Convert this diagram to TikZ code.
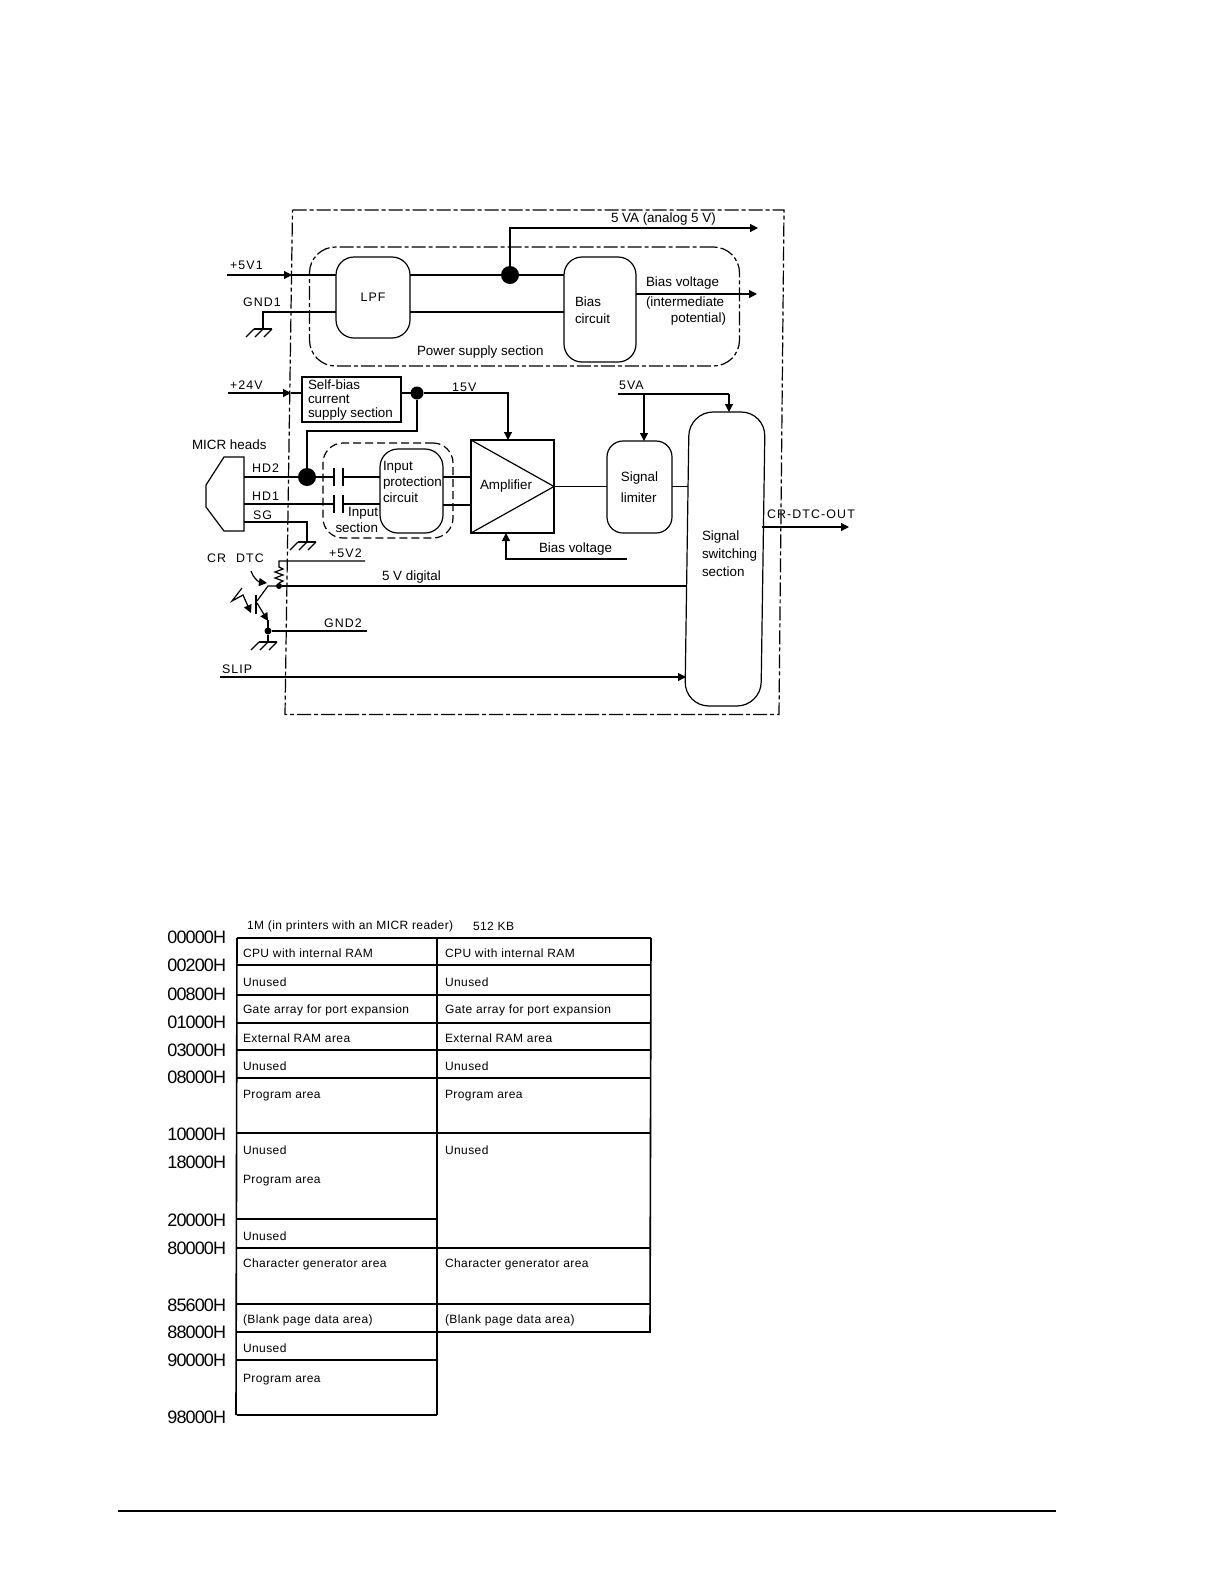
\documentclass[tikz,border=0pt]{standalone}
\usepackage{fontspec}
\setmainfont{Liberation Sans}
\newfontfamily\widefont[LetterSpace=9]{Liberation Sans}
\newfontfamily\cellfont[LetterSpace=3.5]{Liberation Sans}
\newfontfamily\addrfont[LetterSpace=-5]{Liberation Sans}
\usetikzlibrary{arrows.meta}
\usetikzlibrary{positioning}
\tikzset{
  groundmark/.pic={
    \draw (-9,0) -- (9,0);
    \foreach \gx in {-9,0,9} \draw (\gx,0) -- ++(-8,8);
  }
}
\begin{document}
\begin{tikzpicture}[
    x=0.5pt, y=-0.5pt, line width=0.6pt,
    txt/.style={inner sep=0pt, outer sep=0pt, anchor=west, align=left, yshift=-0.5pt, font=\fontsize{6.7}{7}\selectfont},
    widetxt/.style={inner sep=0pt, outer sep=0pt, anchor=west, font=\fontsize{6.2}{7}\widefont},
    rblock/.style={draw, rounded corners=9pt, inner sep=0pt, outer sep=0pt, align=left, font=\fontsize{6.7}{9}\selectfont},
    sqblock/.style={draw, inner sep=0pt, outer sep=0pt},
    dashbox/.style={draw, rounded corners=13pt, inner sep=0pt, dash pattern=on 7pt off 1.5pt on 2pt off 1.5pt},
    dot/.style={circle, fill, inner sep=0pt, outer sep=0pt, minimum size=#1},
    flow/.style={-{Triangle[length=4pt,width=4pt]}},
    framedash/.style={dash pattern=on 7pt off 1.5pt on 2pt off 1.5pt},
    celltxt/.style={inner sep=0pt, outer sep=0pt, anchor=west, yshift=-0.6pt, font=\fontsize{6}{7}\cellfont},
    addrtxt/.style={inner sep=0pt, outer sep=0pt, anchor=east, font=\fontsize{9}{10}\addrfont},
  ]
  \useasboundingbox (0,0) rectangle (1225,1585);

  % Outer frame
  \coordinate (frameNW) at (292.5,210);
  \coordinate (frameNE) at (784,210);
  \coordinate (frameSE) at (779,714.5);
  \coordinate (frameSW) at (285,714.5);
  \draw[framedash] (frameNW) -- (frameNE) -- (frameSE) -- (frameSW) -- cycle;

  % Power supply section
  \node[dashbox, minimum width=215pt, minimum height=59.5pt] (powerbox) at (524.5,306.5) {};
  \node[rblock, minimum width=37pt, minimum height=40.5pt, font=\fontsize{6.2}{7}\widefont] (LPF) at (373,297.5) {LPF};
  \node[rblock, minimum width=36pt, minimum height=52.5pt] (biasc) at (600,309.5) {};
  \node[txt] (biaslbl) at (575,309) {Bias\\[1.6pt]circuit};
  \node[txt] (powerlbl) at (417,351) {Power supply section};
  \node[dot=9pt] (dotA) at (510,275) {};
  \coordinate (in5v) at (227,275);
  \coordinate (tip5v) at (292,275);
  \coordinate (gndturn) at (263,312);
  \coordinate (gnddown) at (263,329);
  \coordinate (vaturn) at (510,228);
  \coordinate (vaend) at (758,228);
  \coordinate (biasend) at (757,294);
  \node[widetxt] (lblfive) at (230,265) {+5V1};
  \node[widetxt] (lblgnd) at (243,302) {GND1};
  \node[txt] (lblva) at (611,218) {5 VA (analog 5 V)};
  \node[txt] (lblbias) at (646,282) {Bias voltage};
  \node[txt] (lblinter) at (646,302) {(intermediate};
  \node[txt, anchor=east] (lblpot) at (726,318) {potential)};

  \draw[flow] (in5v) -- (tip5v);
  \draw (tip5v) -- (in5v -| LPF.west);
  \draw (in5v -| LPF.east) -- (dotA);
  \draw (dotA) -- (in5v -| biasc.west);
  \draw[flow] (dotA) -- (vaturn) -- (vaend);
  \draw (gnddown) -- (gndturn) -- (gndturn -| LPF.west);
  \draw (gndturn -| LPF.east) -- (gndturn -| biasc.west);
  \draw[flow] (biasend -| biasc.east) -- (biasend);
  \pic at (gnddown) {groundmark};

  % Self-bias supply
  \node[sqblock, minimum width=49.5pt, minimum height=22.5pt] (selfbias) at (351.5,399.5) {};
  \node[txt] (selflbl) at (308,399) {Self-bias\\current\\supply section};
  \node[dot=6.5pt] (dotB) at (417,393) {};
  \coordinate (in24) at (228,393);
  \coordinate (tip24) at (291,393);
  \coordinate (turnB) at (417,431);
  \coordinate (turnC) at (307,431);
  \node[widetxt] (lbl24) at (230,385) {+24V};
  \node[widetxt] (lbl15) at (452,387) {15V};

  % MICR heads
  \coordinate (headA) at (224,457);
  \coordinate (headB) at (244,457);
  \coordinate (headC) at (244,531);
  \coordinate (headD) at (224,531);
  \coordinate (headE) at (206,507);
  \coordinate (headF) at (206,485);
  \draw (headA) -- (headB) -- (headC) -- (headD) -- (headE) -- (headF) -- cycle;
  \node[txt] (lblmicr) at (192,444) {MICR heads};
  \node[widetxt] (lblhd2) at (252,468) {HD2};
  \node[widetxt] (lblhd1) at (252,496) {HD1};
  \node[widetxt] (lblsg) at (253,515) {SG};
  \node[dot=9pt] (dotC) at (307,477) {};
  \coordinate (hdA) at (244,477);
  \coordinate (hdB) at (244,504);
  \coordinate (sgA) at (244,522);
  \coordinate (sgB) at (307,522);
  \coordinate (sgC) at (307,542);

  % Input section
  \node[dashbox, rounded corners=10pt, dash pattern=on 4pt off 2pt, minimum width=65pt, minimum height=47.5pt] (inputbox) at (388,490.5) {};
  \node[rblock, minimum width=31.5pt, minimum height=42pt] (protect) at (411.5,491) {};
  \node[txt] (protlbl) at (383,481) {Input\\[1pt]protection\\[1pt]circuit};
  \node[txt, anchor=east, align=right] (inputlbl) at (378,519) {Input\\[1pt]section};
  \coordinate (capA) at (334,477);
  \coordinate (capB) at (343,477);
  \coordinate (capC) at (334,504);
  \coordinate (capD) at (343,504);
  \coordinate (outB) at (443,505);
  \draw (capA) ++(0,-9) -- ++(0,18);
  \draw (capB) ++(0,-9) -- ++(0,18);
  \draw (capC) ++(0,-9) -- ++(0,18);
  \draw (capD) ++(0,-9) -- ++(0,18);

  % Amplifier
  \node[sqblock, minimum width=41.5pt, minimum height=46.5pt] (amp) at (512.5,486.5) {};
  \draw (amp.north west) -- (amp.east) -- (amp.south west);
  \node[txt] (amplbl) at (480,485) {Amplifier};
  \coordinate (ampin) at (508,393);
  \coordinate (biasin) at (506,559);
  \coordinate (biasoff) at (627,559);
  \node[txt] (lblbias2) at (539,548) {Bias voltage};

  \draw[flow] (in24) -- (tip24);
  \draw (tip24) -- (selfbias.west |- in24);
  \draw (selfbias.east |- in24) -- (dotB);
  \draw[flow] (dotB) -- (ampin) -- (ampin |- amp.north);
  \draw (dotB) -- (turnB) -- (turnC) -- (dotC);
  \draw (hdA) -- (dotC) -- (capA);
  \draw (capB) -- (capB -| protect.west);
  \draw (hdB) -- (capC);
  \draw (capD) -- (capD -| protect.west);
  \draw (sgA) -- (sgB) -- (sgC);
  \pic at (sgC) {groundmark};
  \draw (protect.east |- capA) -- (amp.west |- capA);
  \draw (outB) -- (outB -| amp.west);
  \draw[flow] (biasoff) -- (biasin) -- (biasin |- amp.south);

  % Signal limiter and switching
  \node[rblock, rounded corners=8pt, minimum width=32.5pt, minimum height=46pt] (limiter) at (639.5,487) {Signal\\[1.5pt]limiter};
  \begin{scope}[shift={(725,559)}, xslant=0.0145]
    \node[rblock, rounded corners=12pt, transform shape, minimum width=38pt, minimum height=147pt] (switching) at (0,0) {};
  \end{scope}
  \node[txt, font=\fontsize{6.7}{9}\selectfont] (switchlbl) at (702,553) {Signal\\switching\\section};
  \coordinate (va5a) at (618,394);
  \coordinate (vaB) at (644,394);
  \coordinate (vaC) at (729,394);
  \coordinate (crout) at (849,527);
  \node[widetxt] (lbl5va) at (619,385) {5VA};
  \node[widetxt] (lblcr) at (767,514) {CR-DTC-OUT};
  \draw (amp.east) -- (amp.east -| limiter.west);
  \draw (amp.east -| limiter.east) -- ++(16,0);
  \draw (va5a) -- (vaC);
  \draw[flow] (vaB) -- (vaB |- limiter.north);
  \draw[flow] (vaC) -- (729,412);
  \draw[flow] (762,527) -- (crout);

  % CR detector
  \node[dot=3pt] (dotD) at (279,586) {};
  \node[dot=3.5pt] (dotE) at (268,631) {};
  \coordinate (v5a) at (279,561);
  \coordinate (v5b) at (365,561);
  \coordinate (digend) at (687,586);
  \coordinate (gnd2end) at (367,631);
  \coordinate (gnd2low) at (268,642);
  \coordinate (slipA) at (220,677);
  \coordinate (slipB) at (686,677);
  \node[widetxt] (lblv52) at (329,553) {+5V2};
  \node[txt] (lbldig) at (382,576) {5 V digital};
  \node[widetxt] (lblgnd2) at (324,623) {GND2};
  \node[widetxt] (lblslip) at (222,669) {SLIP};
  \node[widetxt] (lblcrd) at (207,558) {CR\hspace{5pt}DTC};
  \draw (v5b) -- (v5a) -- ++(0,6) -- ++(4,2) -- ++(-8,3) -- ++(8,3) -- ++(-8,3) -- ++(8,3) -- ++(-4,2) -- (dotD);
  \draw (dotD) -- (digend);
  \draw (dotD) -- (268,586) -- (257,601);
  \draw[line width=0.9pt] (256,595) -- (256,614);
  \draw[flow] (257,603) -- (268,621);
  \draw (268,620) -- (dotE) -- (gnd2low);
  \draw (dotE) -- (gnd2end);
  \pic at (gnd2low) {groundmark};
  \draw[flow] (251,571) .. controls (253,578) and (259,582) .. (267,583);
  \draw[flow] (242,588) -- (232,601) -- (243,595) -- (251,613);
  \draw[flow] (slipA) -- (slipB);

  % Address map
  \node[celltxt] (maphead) at (247,925) {1M (in printers with an MICR reader)};
  \node[celltxt] (maphead2) at (473,925) {512 KB};
  \foreach \ay/\addr in {937/00000H,965/00200H,994/00800H,1022/01000H,1050/03000H,1077/08000H,1134/10000H,1162/18000H,1220/20000H,1248/80000H,1305/85600H,1332/88000H,1360/90000H,1417/98000H}
    \node[addrtxt] (a\addr) at (226,\ay) {\addr};
  \begin{scope}[line width=0.8pt]
    \foreach \ly in {938,965,995,1023,1050,1078,1133,1248,1304,1332}
      \draw (237,\ly) -- (651,\ly);
    \foreach \ly in {1219,1360,1415}
      \draw (237,\ly) -- (437,\ly);
    \draw (237,938) -- (236,1415);
    \draw (437,938) -- (437,1415);
    \draw (651,938) -- (650,1332);
  \end{scope}
  \foreach \ty/\txt [count=\i] in {952/CPU with internal RAM,981/Unused,1009/Gate array for port expansion,1037/External RAM area,1065/Unused,1094/Program area,1149/Unused,1179/Program area,1235/Unused,1263/Character generator area,1319/(Blank page data area),1347/Unused,1378/Program area}
    \node[celltxt] (left\i) at (243,\ty) {\txt};
  \foreach \ty/\txt [count=\i] in {952/CPU with internal RAM,981/Unused,1009/Gate array for port expansion,1037/External RAM area,1065/Unused,1094/Program area,1149/Unused,1263/Character generator area,1319/(Blank page data area)}
    \node[celltxt] (right\i) at (445,\ty) {\txt};

  % Page rule
  \coordinate (ruleA) at (118,1511);
  \coordinate (ruleB) at (1056,1511);
  \draw (ruleA) -- (ruleB);

\end{tikzpicture}
\end{document}
